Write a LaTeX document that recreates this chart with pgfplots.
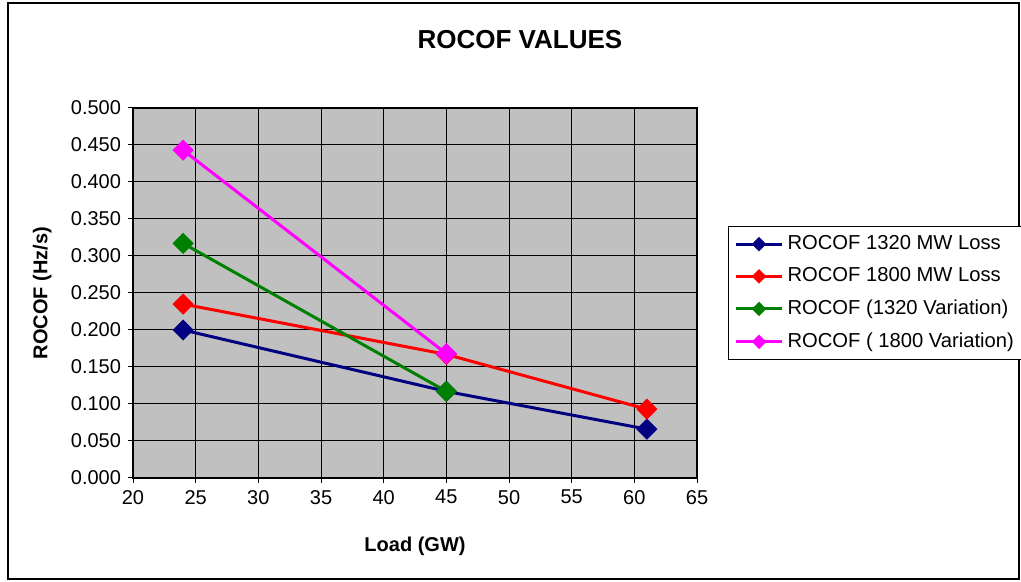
\documentclass[border=0pt]{standalone}
\usepackage{fontspec}
\setmainfont{Liberation Sans}
\usepackage{pgfplots}
\pgfplotsset{compat=1.18}

\definecolor{navyline}{RGB}{0,0,128}
\definecolor{redline}{RGB}{255,0,0}
\definecolor{greenline}{RGB}{0,128,0}
\definecolor{magline}{RGB}{255,0,255}
\definecolor{plotbg}{RGB}{192,192,192}

\begin{document}
\begin{tikzpicture}
% page frame
\useasboundingbox (0pt,0pt) rectangle (510.5pt,291pt);
\draw[line width=0.9pt] (4pt,1.5pt) rectangle (509.5pt,289.5pt);

\begin{axis}[
  at={(66.5pt,52pt)}, anchor=south west,
  scale only axis,
  width=282pt, height=185pt,
  xmin=20, xmax=65, ymin=0, ymax=0.5,
  xtick={20,25,...,65},
  ytick={0,0.05,...,0.5},
  tick align=outside,
  xtick pos=lower, ytick pos=left,
  major tick length=2.5pt,
  tick style={black, line width=0.5pt},
  grid=major,
  major grid style={black, line width=0.5pt},
  axis line style={black, line width=0.6pt},
  axis background/.style={fill=plotbg},
  tick label style={font=\fontsize{10}{12}\selectfont},
  /pgf/number format/assume math mode=true,
  yticklabel style={/pgf/number format/.cd, fixed, fixed zerofill, precision=3},
  xticklabel style={/pgf/number format/.cd, fixed},
  scaled y ticks=false,
  title={\bfseries ROCOF VALUES},
  title style={font=\fontsize{13}{15}\selectfont, at={(axis description cs:0.686,1.152)}, anchor=center},
  xlabel={\bfseries Load (GW)},
  ylabel={\bfseries ROCOF (Hz/s)},
  label style={font=\fontsize{10}{12}\selectfont},
  every axis x label/.style={at={(axis description cs:0.5,-0.186)}, anchor=center},
  every axis y label/.style={at={(axis description cs:-0.161,0.5)}, anchor=center, rotate=90},
  legend style={
    at={(axis description cs:1.055,0.681)}, anchor=north west,
    draw=black, line width=0.5pt, fill=white,
    font=\fontsize{10.1}{12}\selectfont,
    row sep=3.6pt, inner xsep=3pt, inner ysep=2.5pt,
    /tikz/every even column/.append style={column sep=1pt}
  },
  legend cell align=left,
  legend image code/.code={
    \draw[line width=1.5pt, mark size=1.8pt, mark repeat=2, mark phase=2]
      plot coordinates {(0pt,0pt) (11.5pt,0pt) (23pt,0pt)};
  },
  every axis plot/.append style={line width=1.5pt, mark=square*, mark size=3pt},
]
\addplot[color=navyline, mark options={fill=navyline, rotate=45, solid}] coordinates {(24,0.200) (45,0.117) (61,0.066)};
\addlegendentry{ROCOF 1320 MW Loss}
\addplot[color=redline, mark options={fill=redline, rotate=45, solid}] coordinates {(24,0.235) (45,0.167) (61,0.093)};
\addlegendentry{ROCOF 1800 MW Loss}
\addplot[color=greenline, mark options={fill=greenline, rotate=45, solid}] coordinates {(24,0.317) (45,0.117)};
\addlegendentry{ROCOF (1320 Variation)}
\addplot[color=magline, mark options={fill=magline, rotate=45, solid}] coordinates {(24,0.443) (45,0.168)};
\addlegendentry{ROCOF ( 1800 Variation)}
\end{axis}
\end{tikzpicture}
\end{document}
